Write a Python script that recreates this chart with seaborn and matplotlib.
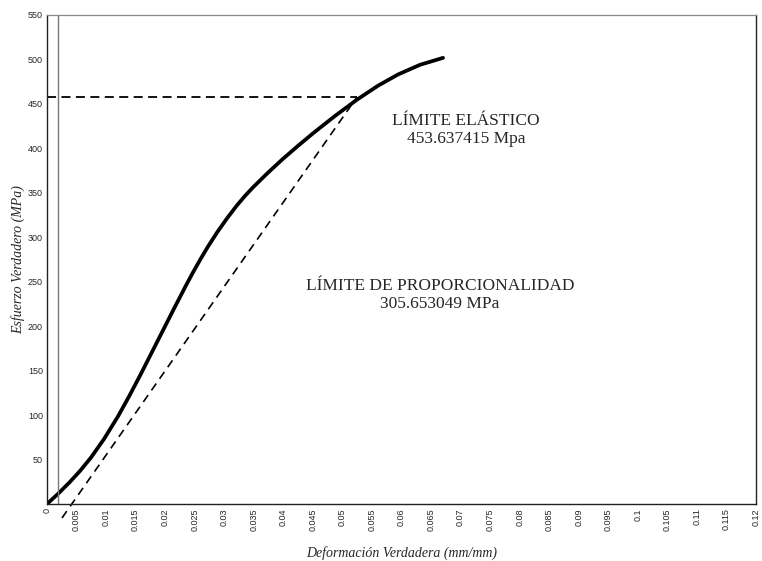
import numpy as np
import pandas as pd
import seaborn as sns
import matplotlib
matplotlib.use("Agg")
import matplotlib.pyplot as plt

# --- data ---
strain = [0.0, 0.00186, 0.00389, 0.00559, 0.00745, 0.00965, 0.01202, 0.01388,
          0.01574, 0.01760, 0.01947, 0.02150, 0.02353, 0.02471, 0.02590, 0.02725,
          0.02878, 0.03047, 0.03216, 0.03351, 0.03487, 0.03741, 0.03995, 0.04249,
          0.04502, 0.04875, 0.05247, 0.05603, 0.05941, 0.06314, 0.06703]
stress = [0.0, 11.4, 24.9, 37.2, 52.3, 73.1, 98.6, 120.9,
          144.4, 168.7, 193.2, 219.8, 245.9, 260.5, 274.5, 289.6,
          305.4, 321.3, 336.0, 346.5, 356.2, 372.7, 388.3, 402.9,
          416.9, 436.5, 454.8, 470.5, 483.1, 494.0, 501.8]

offset_x = [0.00254, 0.0525]
offset_y = [-15.7, 458]
yield_x = [0.0, 0.0525]
yield_y = [458, 458]

xticks = [round(0.005 * i, 3) for i in range(25)]
xticklabels = ["0" if t == 0 else f"{t:g}" for t in xticks]
yticks = list(range(0, 551, 50))
yticklabels = ["" if t == 0 else str(t) for t in yticks]

label_elastic = "LÍMITE ELÁSTICO\n453.637415 Mpa"
label_prop = "LÍMITE DE PROPORCIONALIDAD\n305.653049 MPa"

sns.set_style("white")
plt.rcParams['font.family'] = ['DejaVu Sans']

fig = plt.figure(figsize=(7.62, 5.61), dpi=100)
ax = fig.add_axes([47 / 762, 57 / 561, (756 - 47) / 762, (504 - 15) / 561])

df = pd.DataFrame({"strain": strain, "stress": stress})
sns.lineplot(data=df, x="strain", y="stress", ax=ax, color="black",
             linewidth=2.7, sort=False, estimator=None)
ax.plot(yield_x, yield_y, color="black", linestyle=(0, (5, 3)), linewidth=1.3)
ax.plot(offset_x, offset_y, color="black", linestyle=(0, (5, 3.5)), linewidth=1.2,
        clip_on=False)
ax.axvline(0.0019, color="#777777", linewidth=1.0)

ax.set_xlim(0, 0.12)
ax.set_ylim(0, 550)
ax.set_xticks(xticks)
ax.set_xticklabels(xticklabels, rotation=90, fontsize=6.5, family="Liberation Sans")
ax.set_yticks(yticks)
ax.set_yticklabels(yticklabels, fontsize=6.5, family="Liberation Sans")
ax.tick_params(axis="both", direction="in", length=3, width=0.8, color="#333333", pad=3)

for side in ["left", "bottom", "right"]:
    ax.spines[side].set_color("#222222")
    ax.spines[side].set_linewidth(1.0)
ax.spines["top"].set_color("#888888")
ax.spines["top"].set_linewidth(0.9)

ax.set_xlabel("Deformación Verdadera (mm/mm)", family="Liberation Serif",
              style="italic", fontsize=10)
ax.set_ylabel("Esfuerzo Verdadero (MPa)", family="Liberation Serif",
              style="italic", fontsize=10)
ax.xaxis.set_label_coords(0.5, -0.085)
ax.yaxis.set_label_coords(-0.031, 0.5)

ax.text(0.0709, 421, label_elastic, ha="center", va="center", family="Liberation Serif",
        fontsize=12.5, linespacing=1.15)
ax.text(0.0665, 235, label_prop, ha="center", va="center", family="Liberation Serif",
        fontsize=12.5, linespacing=1.15)

fig.savefig("out.png", dpi=100, facecolor="white")
